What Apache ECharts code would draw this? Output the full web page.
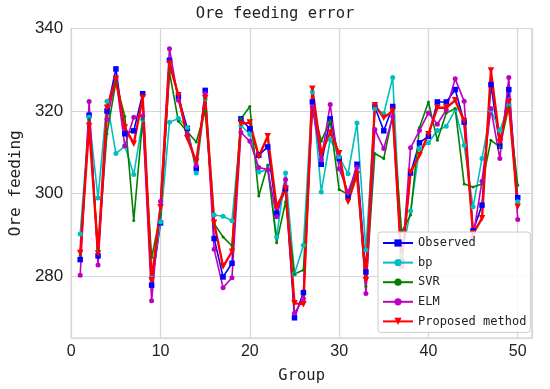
<!DOCTYPE html>
<html><head><meta charset="utf-8">
<script src="https://cdn.jsdelivr.net/npm/echarts@6/dist/echarts.min.js"></script>
<style>html,body{margin:0;padding:0;background:#fff}#c{width:550px;height:389px}</style>
</head><body><div id="c"></div>
<script>
const groups = [1,2,3,4,5,6,7,8,9,10,11,12,13,14,15,16,17,18,19,20,21,22,23,24,25,26,27,28,29,30,31,32,33,34,35,36,37,38,39,40,41,42,43,44,45,46,47,48,49,50];
const observed = [284.0,319.0,284.9,320.0,330.2,314.5,315.2,324.2,277.8,292.9,332.3,323.4,315.8,306.0,325.0,289.1,279.8,283.1,318.1,315.7,309.3,311.3,295.2,301.2,269.9,276.0,322.2,307.1,318.1,308.5,299.2,307.1,281.0,321.0,315.2,321.1,283.5,305.0,312.3,313.9,322.2,322.2,325.2,317.3,291.0,297.2,326.4,311.5,325.2,299.0];
const bp = [290.2,318.5,298.9,322.4,309.7,311.5,304.6,318.0,279.5,293.1,317.3,318.2,316.0,305.0,322.9,294.8,294.5,293.4,316.5,314.4,305.2,305.8,289.5,305.0,280.5,287.5,324.6,300.4,313.1,308.9,304.8,317.1,286.3,320.6,319.4,328.1,285.0,295.8,310.9,312.3,315.3,316.3,320.3,311.7,296.8,308.5,320.2,315.3,321.4,298.0];
const svr = [285.0,318.0,286.3,314.5,327.0,318.7,293.5,318.0,284.5,295.0,329.4,317.5,315.0,312.5,320.0,292.7,289.5,287.3,318.1,321.1,299.4,306.9,288.1,298.0,280.5,281.5,321.4,312.7,317.7,301.0,299.8,305.2,277.5,309.7,308.5,319.0,290.7,294.8,316.0,322.2,312.9,319.5,320.6,302.3,301.6,302.3,312.9,311.3,321.0,302.0];
const elm = [280.2,322.3,282.7,318.0,328.0,311.5,318.5,318.8,274.0,298.1,335.1,322.6,314.4,306.8,324.2,286.5,277.2,279.6,314.8,312.7,306.3,305.8,294.4,303.4,271.0,274.5,321.0,308.2,321.6,306.0,300.4,306.3,275.8,315.5,310.9,318.7,282.3,311.1,315.3,319.5,316.8,320.3,327.8,322.4,289.5,303.0,320.6,308.5,328.1,293.7];
const proposed = [285.6,316.4,285.5,320.8,327.8,316.0,312.1,323.2,279.0,296.7,331.5,323.8,313.4,307.7,323.1,292.9,282.3,285.9,316.9,317.2,309.0,313.9,296.8,301.2,273.4,273.2,325.4,309.7,314.8,309.8,298.0,304.7,279.0,321.4,318.4,320.0,283.0,305.2,309.3,314.4,320.8,320.8,322.6,317.6,290.3,294.0,329.8,312.5,322.2,296.8];
const xTicks = [0,10,20,30,40,50];
const yTicks = [280,300,320,340];

const pairs = arr => groups.map((g,i)=>[g,arr[i]]);
const mono = 'DejaVu Sans Mono';
const chart = echarts.init(document.getElementById('c'), null, {renderer:'canvas'});
chart.setOption({
  animation:false,
  backgroundColor:'#fff',
  title:{text:'Ore feeding error', left:'center', top:1, textStyle:{fontFamily:mono, fontSize:15.5, fontWeight:'normal', color:'#222'}},
  grid:{left:63.5, right:18, top:28.5, bottom:50, show:true, borderColor:'#cccccc', borderWidth:1.2},
  xAxis:{type:'value', min:0, max:51.6, splitNumber:5,
    name:'Group', nameLocation:'middle', nameGap:30, nameTextStyle:{fontFamily:mono, fontSize:15.5, color:'#222'},
    axisLine:{show:false}, axisTick:{show:false},
    axisLabel:{fontFamily:'Liberation Sans', fontSize:16, color:'#222', margin:6, showMaxLabel:false,
      formatter:v=> xTicks.includes(v)? String(v):''},
    splitLine:{show:true, lineStyle:{color:'#d6d6d6', width:1.2}}},
  yAxis:{type:'value', min:265, max:340, splitNumber:4,
    name:'Ore feeding', nameLocation:'middle', nameGap:35, nameTextStyle:{fontFamily:mono, fontSize:16, color:'#222'},
    axisLine:{show:false}, axisTick:{show:false},
    axisLabel:{fontFamily:'Liberation Sans', fontSize:17, color:'#222', margin:8, showMinLabel:false,
      formatter:v=> yTicks.includes(v)? String(v):''},
    splitLine:{show:true, lineStyle:{color:'#d6d6d6', width:1.2}}},
  legend:{orient:'vertical', left:378, top:232, itemWidth:30, itemHeight:9, itemGap:7.6,
    padding:[5,4,5,4],
    backgroundColor:'rgba(255,255,255,0.85)', borderColor:'#cccccc', borderWidth:1, borderRadius:3,
    textStyle:{fontFamily:mono, fontSize:12, color:'#222'},
    data:['Observed','bp','SVR','ELM','Proposed method']},
  series:[
    {name:'Observed', type:'line', data:pairs(observed), symbol:'rect', symbolSize:5.5,
      lineStyle:{color:'#0000ff', width:1.6}, itemStyle:{color:'#0000ff'}},
    {name:'bp', type:'line', data:pairs(bp), symbol:'circle', symbolSize:5,
      lineStyle:{color:'#00bfbf', width:1.6}, itemStyle:{color:'#00bfbf'}},
    {name:'SVR', type:'line', data:pairs(svr), symbol:'circle', symbolSize:3,
      lineStyle:{color:'#008000', width:1.6}, itemStyle:{color:'#008000'}},
    {name:'ELM', type:'line', data:pairs(elm), symbol:'circle', symbolSize:5,
      lineStyle:{color:'#bf00bf', width:1.6}, itemStyle:{color:'#bf00bf'}},
    {name:'Proposed method', type:'line', data:pairs(proposed), symbol:'triangle', symbolRotate:180, symbolSize:6.5,
      lineStyle:{color:'#ff0000', width:2.4}, itemStyle:{color:'#ff0000'}}
  ]
});
</script></body></html>
